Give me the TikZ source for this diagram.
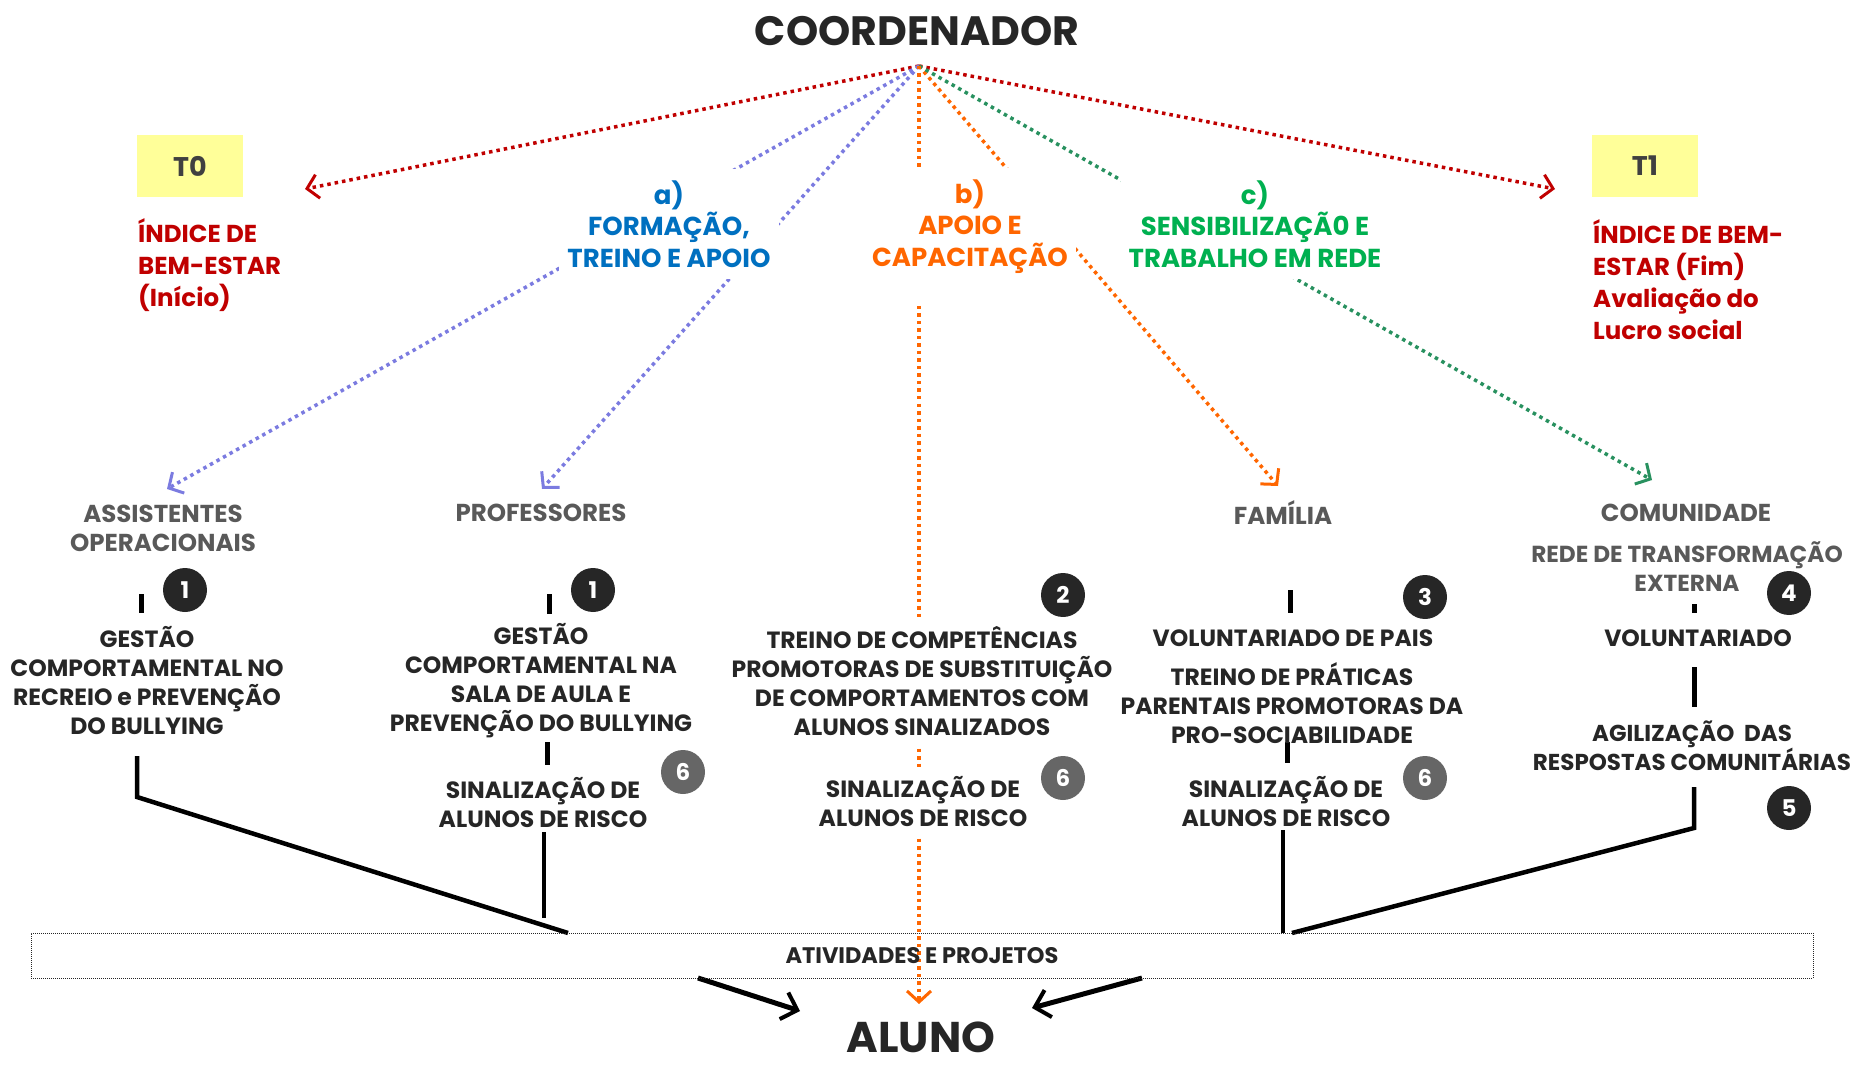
\documentclass[tikz,border=0pt]{standalone}
\usepackage{fontspec}
\setmainfont{Poppins}
\usetikzlibrary{arrows.meta,calc}
\definecolor{cred}{RGB}{192,0,0}
\definecolor{cblue}{RGB}{0,112,192}
\definecolor{clav}{RGB}{123,123,224}
\definecolor{corange}{RGB}{255,102,0}
\definecolor{cgreen}{RGB}{0,176,80}
\definecolor{cgline}{RGB}{40,145,95}
\definecolor{cgray}{RGB}{89,89,89}
\definecolor{cdark}{RGB}{38,38,38}
\definecolor{cyellow}{RGB}{255,255,153}
\definecolor{cbsix}{RGB}{102,102,102}
\definecolor{ctgray}{RGB}{64,64,64}
\pgfdeclarelayer{bg}\pgfsetlayers{bg,main}
\begin{document}
\begin{tikzpicture}[x=1pt,y=-1pt,
  every node/.style={inner sep=0pt},
  title/.style={text=cdark,font=\bfseries\fontsize{41}{41}\selectfont},
  bigtitle/.style={text=cdark,font=\bfseries\fontsize{43}{43}\selectfont},
  body/.style={text=cdark,align=center,font=\bfseries\fontsize{23.5}{29}\selectfont},
  wbody/.style={body,fill=white,inner xsep=6pt,inner ysep=9pt},
  grp/.style={text=cgray,align=center,font=\bfseries\fontsize{24.5}{29}\selectfont},
  redt/.style={text=cred,align=left,font=\bfseries\fontsize{24.5}{32}\selectfont},
  axis/.style={align=center,fill=white,inner xsep=8pt,inner ysep=12pt,font=\bfseries\fontsize{26}{31.5}\selectfont},
  tbox/.style={fill=cyellow,text=ctgray,minimum width=106pt,minimum height=62pt,font=\bfseries\fontsize{27}{27}\selectfont},
  badge/.style={circle,fill=cdark,text=white,minimum size=44pt,font=\bfseries\fontsize{23}{23}\selectfont},
  badgesix/.style={badge,fill=cbsix},
  dotl/.style={line width=3.5pt,dash pattern=on 3.5pt off 4pt},
  barb/.style={-{Straight Barb[length=11pt,width=24pt,line width=3pt]}},
  conn/.style={line width=4.5pt,black},
  connthin/.style={line width=3.5pt,black},
  tick/.style={line width=5pt,black},
  bigarrow/.style={line width=5pt,black,-{Straight Barb[length=14pt,width=28pt,line width=4pt]}},
  actbox/.style={draw=black!85,densely dotted,line width=1pt,minimum width=1782pt,minimum height=45pt,text=cdark,font=\bfseries\fontsize{22.5}{22.5}\selectfont}
]
\useasboundingbox (0,0) rectangle (1856,1067);

% top and bottom titles
\node[title] (coord) at (917,31) {COORDENADOR};
\node[bigtitle] (aluno) at (921,1037) {ALUNO};
\coordinate (apex) at (919,66);

% T0 / T1
\node[tbox] (t0) at (190,166) {T0};
\node[tbox] (t1) at (1645,166) {T1};
\node[redt,anchor=west] (t0txt) at (138,265) {ÍNDICE DE\\BEM-ESTAR\\(Início)};
\node[redt,anchor=west] (t1txt) at (1593,280) {ÍNDICE DE BEM-\\ESTAR (Fim)\\Avaliação do\\Lucro social};

% axis labels
\node[axis,text=cblue] (la) at (669,224) {a)\\FORMAÇÃO,\\TREINO E APOIO};
\node[axis,text=corange] (lb) at (970,235) {b)\\APOIO E\\CAPACITAÇÃO\rule[-24pt]{0pt}{24pt}};
\node[axis,text=cgreen] (lc) at (1255,224) {c)\\SENSIBILIZAÇÃ0 E\\TRABALHO EM REDE};

% arrow tips
\coordinate (tipT0) at (305,189);
\coordinate (tipT1) at (1555,189);
\coordinate (tipAss) at (167,489);
\coordinate (tipProf) at (542,489);
\coordinate (tipFam) at (1278,486);
\coordinate (tipCom) at (1652,480);
\coordinate (tipAluno) at (919,1004);

% group labels
\node[grp] (ass) at (163,528) {ASSISTENTES\\OPERACIONAIS};
\node[grp] (prof) at (541,513) {PROFESSORES};
\node[grp] (fam) at (1283,513) {FAMÍLIA};
\node[grp] (com) at (1686,513) {COMUNIDADE};
\node[grp,font=\bfseries\fontsize{23.2}{29}\selectfont] (rede) at (1687,567) {REDE DE TRANSFORMAÇÃO\\EXTERNA};

% badges
\node[badge] (b1a) at (185,590) {1};
\node[badge] (b1b) at (593,590) {1};
\node[badge] (b2) at (1063,595) {2};
\node[badge] (b3) at (1425,597) {3};
\node[badge] (b4) at (1789,593) {4};
\node[badge] (b5) at (1789,808) {5};
\node[badgesix] (b6a) at (683,772) {6};
\node[badgesix] (b6b) at (1063,778) {6};
\node[badgesix] (b6c) at (1425,778) {6};

% body texts
\node[body] (gestA) at (147,681) {GESTÃO\\COMPORTAMENTAL NO\\RECREIO e PREVENÇÃO\\DO BULLYING};
\node[body] (gestB) at (541,681) {GESTÃO\\COMPORTAMENTAL NA\\SALA DE AULA E\\PREVENÇÃO DO BULLYING};
\node[body] (sinB) at (543,803) {SINALIZAÇÃO DE\\ALUNOS DE RISCO};
\node[wbody] (treino) at (922,681) {TREINO DE COMPETÊNCIAS\\PROMOTORAS DE SUBSTITUIÇÃO\\DE COMPORTAMENTOS COM\\ALUNOS SINALIZADOS};
\node[wbody] (sinC) at (923,802) {SINALIZAÇÃO DE\\ALUNOS DE RISCO};
\node[body] (volp) at (1293,638) {VOLUNTARIADO DE PAIS};
\node[body] (trp) at (1292,703) {TREINO DE PRÁTICAS\\PARENTAIS PROMOTORAS DA\\PRO-SOCIABILIDADE};
\node[body] (sinD) at (1286,802) {SINALIZAÇÃO DE\\ALUNOS DE RISCO};
\node[body] (vol) at (1698,638) {VOLUNTARIADO};
\node[body,font=\bfseries\fontsize{23}{29}\selectfont] (agil) at (1692,746) {AGILIZAÇÃO~ DAS\\RESPOSTAS COMUNITÁRIAS};

% activities box
\node[actbox] (act) at (922,955.5) {ATIVIDADES E PROJETOS};

% connector coordinates
\coordinate (cA) at (137,756);
\coordinate (cAk) at (137,797);
\coordinate (boxA) at (568,933);
\coordinate (cB) at (544,832);
\coordinate (boxB) at (544,918);
\coordinate (cD) at (1283,830);
\coordinate (boxD) at (1283,933);
\coordinate (cE) at (1694,787);
\coordinate (cEk) at (1694,828);
\coordinate (boxE) at (1292,933);
\coordinate (outL) at (698,978);
\coordinate (outR) at (1142,978);
\coordinate (inL) at (800,1011);
\coordinate (inR) at (1032,1008);

\begin{pgfonlayer}{bg}
  \draw[dotl,cred,barb] (apex) -- (tipT0);
  \draw[dotl,cred,barb] (apex) -- (tipT1);
  \draw[dotl,clav,barb] (apex) -- (tipAss);
  \draw[dotl,clav,barb] (apex) -- (tipProf);
  \draw[dotl,corange,barb] (apex) -- (tipFam);
  \draw[dotl,cgline,barb] (apex) -- (tipCom);
  \draw[dotl,corange,barb] (apex) -- (tipAluno);
  % ticks
  \draw[tick] (141,594) -- (141,613);
  \draw[tick] (549,594) -- (549,614);
  \draw[tick] (547,742) -- (547,765);
  \draw[tick] (1290,590) -- (1290,613);
  \draw[tick] (1287,742) -- (1287,763);
  \draw[tick] (1694,604) -- (1694,613);
  \draw[tick] (1694,667) -- (1694,707);
  % connectors to activities
  \draw[conn] (cA) -- (cAk) -- (boxA);
  \draw[connthin] (cB) -- (boxB);
  \draw[connthin] (cD) -- (boxD);
  \draw[conn] (cE) -- (cEk) -- (boxE);
  \draw[bigarrow] (outL) -- (inL);
  \draw[bigarrow] (outR) -- (inR);
\end{pgfonlayer}
\end{tikzpicture}
\end{document}
